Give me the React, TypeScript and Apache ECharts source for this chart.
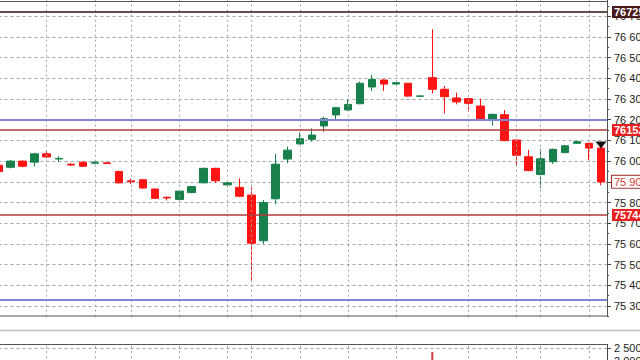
import React, { useEffect, useRef } from 'react';
import * as echarts from 'echarts';

// ---- data ----
const categories = [
  '10.02 09:00', '10.02 10:00', '10.02 11:00', '10.02 12:00', '10.02 13:00', '10.02 14:00', '10.02 15:00',
  '10.02 16:00', '10.02 17:00', '10.02 18:00', '10.02 19:00', '10.02 20:00', '10.02 21:00', '10.02 22:00',
  '10.02 23:00', '11.02 00:00', '11.02 01:00', '11.02 02:00', '11.02 03:00', '11.02 04:00', '11.02 05:00',
  '11.02 06:00', '11.02 07:00', '11.02 08:00', '11.02 09:00', '11.02 10:00', '11.02 11:00', '11.02 12:00',
  '11.02 13:00', '11.02 14:00', '11.02 15:00', '11.02 16:00', '11.02 17:00', '11.02 18:00', '11.02 19:00',
  '11.02 20:00', '11.02 21:00', '11.02 22:00', '11.02 23:00', '12.02 00:00', '12.02 01:00', '12.02 02:00',
  '12.02 03:00', '12.02 04:00', '12.02 05:00', '12.02 06:00', '12.02 07:00', '12.02 08:00', '12.02 09:00',
  '12.02 10:00', '12.02 11:00',
];

const opens = [
  75.98, 75.97, 76.0, 75.995, 76.035, 76.01, 75.985, 75.995, 75.99, 75.992,
  75.95, 75.905, 75.91, 75.865, 75.825, 75.815, 75.848, 75.895, 75.965, 75.885,
  75.873, 75.836, 75.615, 75.818, 76.01, 76.083, 76.105, 76.17, 76.223, 76.247,
  76.277, 76.358, 76.392, 76.372, 76.376, 76.313, 76.403, 76.347, 76.305, 76.302,
  76.266, 76.203, 76.224, 76.102, 76.021, 75.935, 75.997, 76.041, 76.086, 76.086,
  76.063,
];
const closes = [
  75.95, 76.0, 75.975, 76.035, 76.02, 76.013, 75.981, 75.975, 75.995, 75.988,
  75.895, 75.9, 75.87, 75.82, 75.822, 75.855, 75.877, 75.965, 75.905, 75.895,
  75.83, 75.603, 75.8, 75.985, 76.053, 76.108, 76.126, 76.205, 76.258, 76.274,
  76.376, 76.395, 76.372, 76.379, 76.314, 76.315, 76.347, 76.311, 76.286, 76.279,
  76.202, 76.226, 76.099, 76.028, 75.954, 76.011, 76.057, 76.074, 76.094, 76.063,
  75.899,
];
const lows = [
  75.945, 75.965, 75.97, 75.975, 76.015, 75.995, 75.976, 75.972, 75.985, 75.986,
  75.892, 75.89, 75.866, 75.817, 75.81, 75.812, 75.845, 75.893, 75.895, 75.873,
  75.826, 75.417, 75.6, 75.793, 75.99, 76.08, 76.094, 76.142, 76.199, 76.244,
  76.275, 76.339, 76.339, 76.37, 76.311, 76.312, 76.327, 76.231, 76.274, 76.239,
  76.199, 76.171, 76.096, 75.978, 75.951, 75.869, 75.986, 76.038, 76.084, 76.005,
  75.883,
];
const highs = [
  75.985, 76.005, 76.003, 76.04, 76.05, 76.023, 75.99, 75.998, 76.0, 75.994,
  75.953, 75.915, 75.913, 75.868, 75.83, 75.858, 75.88, 75.968, 75.968, 75.898,
  75.917, 75.873, 75.812, 76.034, 76.07, 76.137, 76.158, 76.215, 76.262, 76.298,
  76.384, 76.416, 76.395, 76.381, 76.378, 76.316, 76.637, 76.363, 76.33, 76.305,
  76.302, 76.229, 76.247, 76.105, 76.054, 76.06, 76.06, 76.077, 76.096, 76.089,
  76.066,
];
const volumes = [
  620, 540, 480, 700, 560, 430, 390, 450, 380, 350,
  820, 520, 690, 760, 540, 710, 600, 980, 1050, 640,
  880, 1850, 1780, 1620, 940, 870, 760, 1010, 880, 720,
  1240, 1060, 780, 520, 930, 480, 2350, 1320, 760, 820,
  1080, 690, 1270, 1150, 1040, 1360, 990, 720, 540, 830,
  1450,
];

// candle indices that carry a vertical grid line
const gridLineIdx = [4, 8, 11, 15, 19, 21, 25, 29, 33, 39, 43, 45, 49];

// horizontal levels
const blackLevel = 76.725;
const blueLevels = [76.197, 75.332];
const redLevels = [76.152, 75.744];
const blackTag = '76725';
const redTags = ['76152', '75744'];
const bidPrice = 75.9;
const bidTag = '75 90';
const arrowMark = { index: 50, price: 76.078 };

// ---- styles ----
const UP = '#17804c';
const DOWN = '#ff1414';
const GRID = '#a6a6a6';
const AXIS = '#444';
const FONT = 'Liberation Sans, Arial, sans-serif';

function priceLabel(v: number): string {
  if (v < 75.25 || v > 76.75) return '';
  return v.toFixed(2).replace('.', ' ');
}
function volLabel(v: number): string {
  if (v >= 1000) return Math.floor(v / 1000) + ' ' + String(Math.round(v % 1000)).padStart(3, '0');
  return String(v);
}

export default function App() {
  const ref = useRef<HTMLDivElement>(null);

  useEffect(() => {
    if (!ref.current) return;
    const chart = echarts.init(ref.current, null, { renderer: 'svg' });

    const candleData = opens.map((o, i) => [o, closes[i], lows[i], highs[i]]);
    const volData = volumes.map((v, i) => ({
      value: v,
      itemStyle: { color: closes[i] >= opens[i] ? UP : '#d03a3a' },
    }));
    const emptyData = categories.map(() => null);

    const tagLabel = (text: string, bg: string, color: string, border?: string) => ({
      show: true,
      position: 'end',
      distance: 5,
      formatter: text,
      backgroundColor: bg,
      color,
      borderColor: border || bg,
      borderWidth: border ? 1 : 0,
      padding: [1, 2, 0, 2],
      fontSize: 11,
      fontWeight: 'bold',
      fontFamily: FONT,
      lineHeight: 11,
    });

    const markData: any[] = [
      {
        yAxis: blackLevel,
        lineStyle: { color: '#2a1616', width: 1.5, type: 'solid' },
        label: tagLabel(blackTag, '#4a1a1a', '#ffffff'),
      },
      ...blueLevels.map((v) => ({
        yAxis: v,
        lineStyle: { color: '#8484d4', width: 2, type: 'solid' },
        label: { show: false },
      })),
      ...redLevels.map((v, i) => ({
        yAxis: v,
        lineStyle: { color: '#b23a3a', width: 1.5, type: 'solid' },
        label: tagLabel(redTags[i], '#e82020', '#ffffff'),
      })),
      {
        yAxis: bidPrice,
        lineStyle: { color: 'rgba(0,0,0,0)', width: 1, type: 'solid' },
        label: { ...tagLabel(bidTag, '#ffffff', '#d83a3a', '#a03030'), fontWeight: 'normal', padding: [1, 2, 0, 2] },
      },
    ];

    const vGridLines = (xi: number, yi: number) => ({
      type: 'line',
      xAxisIndex: xi,
      yAxisIndex: yi,
      data: emptyData,
      z: 1,
      silent: true,
      showSymbol: false,
      lineStyle: { width: 0 },
      markLine: {
        symbol: 'none',
        silent: true,
        animation: false,
        label: { show: false },
        lineStyle: { color: GRID, type: [2, 3], width: 1 },
        data: gridLineIdx.map((idx) => ({ xAxis: idx })),
      },
    });

    const hideX = {
      axisLine: { show: false },
      axisTick: { show: false },
      axisLabel: { show: false },
      splitLine: { show: false },
    };

    const option: any = {
      animation: false,
      backgroundColor: '#ffffff',
      grid: [
        { left: -7.5, right: 33, top: -4.5, height: 331.2, outerBoundsMode: 'none', containLabel: false },
        { left: -7.5, right: 33, top: 344, height: 69, outerBoundsMode: 'none', containLabel: false },
      ],
      xAxis: [
        { type: 'category', gridIndex: 0, data: categories, boundaryGap: true, ...hideX },
        { type: 'category', gridIndex: 1, data: categories, boundaryGap: true, ...hideX },
      ],
      yAxis: [
        {
          type: 'value',
          gridIndex: 0,
          position: 'right',
          min: 75.2,
          max: 76.8,
          interval: 0.1,
          axisLine: { show: true, lineStyle: { color: AXIS, width: 1 } },
          axisTick: { show: true, length: 4, lineStyle: { color: AXIS } },
          minorTick: { show: true, splitNumber: 2, length: 2, lineStyle: { color: AXIS } },
          axisLabel: { margin: 7, color: '#222', fontSize: 11, fontFamily: FONT, formatter: priceLabel },
          splitLine: { show: true, lineStyle: { color: GRID, type: [3, 3], width: 1 } },
        },
        {
          type: 'value',
          gridIndex: 1,
          position: 'right',
          min: 0,
          max: 2654,
          interval: 500,
          axisLine: { show: true, lineStyle: { color: AXIS, width: 1 } },
          axisTick: { show: true, length: 4, lineStyle: { color: AXIS } },
          axisLabel: { margin: 7, color: '#222', fontSize: 11, fontFamily: FONT, formatter: volLabel },
          splitLine: { show: true, lineStyle: { color: GRID, type: [3, 3], width: 1 } },
        },
      ],
      series: [
        vGridLines(0, 0),
        vGridLines(1, 1),
        {
          type: 'candlestick',
          xAxisIndex: 0,
          yAxisIndex: 0,
          z: 3,
          data: candleData,
          barWidth: 8,
          itemStyle: {
            color: UP,
            color0: DOWN,
            borderColor: UP,
            borderColor0: DOWN,
            borderWidth: 1,
          },
          markLine: {
            symbol: 'none',
            silent: true,
            animation: false,
            data: markData,
          },
          markPoint: {
            silent: true,
            animation: false,
            data: [
              {
                coord: [arrowMark.index, arrowMark.price],
                symbol: 'triangle',
                symbolRotate: 180,
                symbolSize: [11, 7],
                itemStyle: { color: '#111111' },
                label: { show: false },
              },
            ],
          },
        },
        {
          type: 'bar',
          xAxisIndex: 1,
          yAxisIndex: 1,
          z: 3,
          data: volData,
          barWidth: 2,
        },
      ],
      graphic: [
        { type: 'rect', z: 50, silent: true, shape: { x: 0, y: 317, width: 640, height: 27 }, style: { fill: '#ffffff' } },
        { type: 'line', z: 60, silent: true, shape: { x1: 0, y1: 330.5, x2: 640, y2: 330.5 }, style: { stroke: '#bcbcbc', lineWidth: 1.5 } },
        { type: 'rect', z: 60, silent: true, shape: { x: -2, y: 1.5, width: 609.5, height: 314.5 }, style: { fill: 'none', stroke: '#555', lineWidth: 1 } },
        { type: 'line', z: 60, silent: true, shape: { x1: 0, y1: 344.5, x2: 607.5, y2: 344.5 }, style: { stroke: '#555', lineWidth: 1 } },
      ],
    };

    chart.setOption(option);
    return () => chart.dispose();
  }, []);

  return (
    <div
      ref={ref}
      style={{ position: 'fixed', left: 0, top: 0, width: 640, height: 360, background: '#fff' }}
    />
  );
}
